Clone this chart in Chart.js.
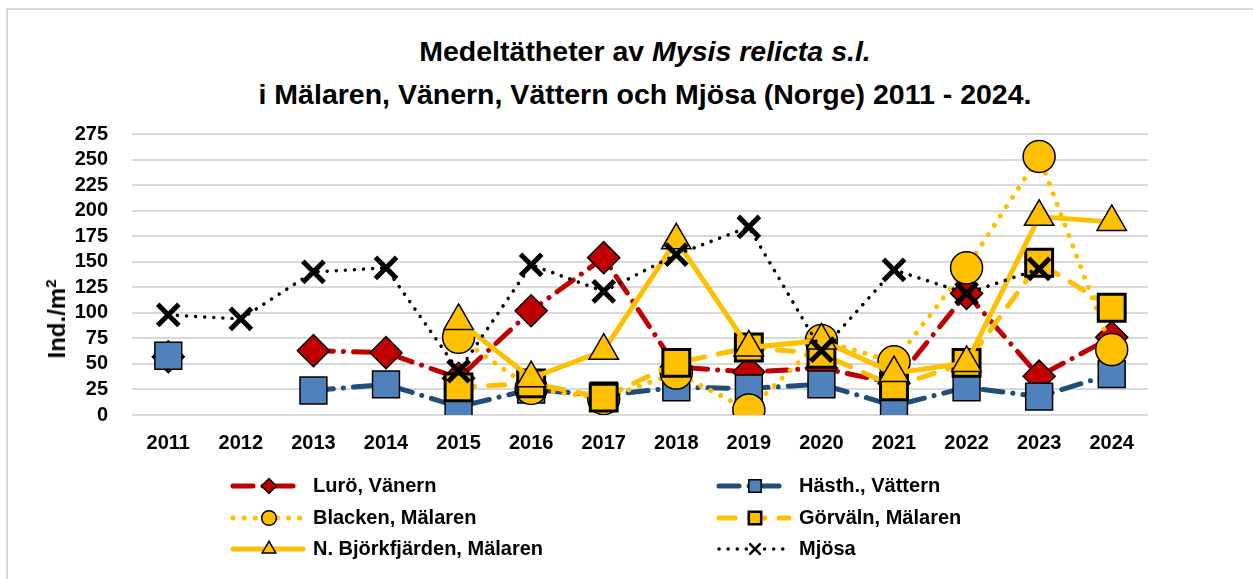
<!DOCTYPE html>
<html lang="sv">
<head>
<meta charset="UTF-8">
<title>Medeltätheter av Mysis relicta</title>
<script src="https://cdn.jsdelivr.net/npm/chart.js"></script>
<style>
  body { margin: 0; background: #fff; }
  #wrap { position: relative; width: 1253px; height: 579px; }
  #frame { position: absolute; left: 6px; top: 8px; right: 0; bottom: 0;
           border-left: 2px solid #d9d9d9; border-top: 2px solid #d9d9d9; }
  #title { position: absolute; left: 0; width: 1290px; top: 30px; text-align: center;
           font: bold 28.5px "Liberation Sans", Arial, sans-serif; line-height: 43px; color: #000; }
  #ytitle { position: absolute; left: 57px; top: 319px; transform: translate(-50%, -50%) rotate(-90deg);
            white-space: nowrap; font: bold 24px "Liberation Sans", Arial, sans-serif; color: #000; }
  #ytitle sup { font-size: 15px; vertical-align: 9px; line-height: 0; }
  canvas { position: absolute; left: 0; top: 0; }
</style>
</head>
<body>
<div id="wrap">
  <div id="frame"></div>
  <div id="title">Medeltätheter av <i>Mysis relicta s.l.</i><br>i Mälaren, Vänern, Vättern och Mjösa (Norge) 2011 - 2024.</div>
  <canvas id="myChart" width="1253" height="579"></canvas>
  <div id="ytitle">Ind./m<sup>2</sup></div>
</div>
<script>
// years
const years = ['2011','2012','2013','2014','2015','2016','2017','2018','2019','2020','2021','2022','2023','2024'];

// values (Ind./m2)
const luro       = [57, null, 63, 61, 36, 102, 154, 47, 42, 46, 31, 119, 38, 76];
const hasth      = [58, null, 24, 30, 8, 25, 19, 27, 26, 30, 9, 27, 18, 40];
const blacken    = [null, null, null, null, 76, 26, 16, 41, 5, 73, 52, 144, 253, 64];
const gorvaln    = [null, null, null, null, 27, 31, 17, 51, 66, 60, 28, 51, 149, 105];
const bjorkfj    = [null, null, null, null, 92, 36, 63, 171, 66, 73, 41, 51, 194, 189];
const mjosa      = [98, 94, 140, 144, 43, 147, 121, 157, 184, 63, 142, 119, 143, null];

const yTicks = [0, 25, 50, 75, 100, 125, 150, 175, 200, 225, 250, 275];

const FONT = '"Liberation Sans", Arial, sans-serif';

const datasets = [
  { label: 'Lurö, Vänern', data: luro, borderColor: '#C00000', borderWidth: 5,
    borderDash: [20, 10, 0.1, 10], borderCapStyle: 'round',
    pointStyle: 'rectRot', pointRadius: 16, pointBackgroundColor: '#C00000',
    pointBorderColor: '#000', pointBorderWidth: 1.5, order: 6 },
  { label: 'Hästh., Vättern', data: hasth, borderColor: '#1F4E79', borderWidth: 5,
    borderDash: [20, 10, 0.1, 10], borderCapStyle: 'round',
    pointStyle: 'rect', pointRadius: 19, pointBackgroundColor: '#4F81BD',
    pointBorderColor: '#000', pointBorderWidth: 1.5, order: 5 },
  { label: 'Blacken, Mälaren', data: blacken, borderColor: '#FFC000', borderWidth: 5,
    borderDash: [0.1, 11], borderCapStyle: 'round',
    pointStyle: 'circle', pointRadius: 16, pointBackgroundColor: '#FFC000',
    pointBorderColor: '#000', pointBorderWidth: 1.5, order: 4 },
  { label: 'Görväln, Mälaren', data: gorvaln, borderColor: '#FFC000', borderWidth: 5,
    borderDash: [16, 14], borderCapStyle: 'round',
    pointStyle: 'rect', pointRadius: 19, pointBackgroundColor: '#FFC000',
    pointBorderColor: '#000', pointBorderWidth: 3, order: 3 },
  { label: 'N. Björkfjärden, Mälaren', data: bjorkfj, borderColor: '#FFC000', borderWidth: 5,
    borderCapStyle: 'round',
    pointStyle: 'triangle', pointRadius: 17, pointBackgroundColor: '#FFC000',
    pointBorderColor: '#000', pointBorderWidth: 1.5, order: 2 },
  { label: 'Mjösa', data: mjosa, borderColor: '#000', borderWidth: 3.5,
    borderDash: [0.1, 9], borderCapStyle: 'round',
    pointStyle: 'crossRot', pointRadius: 15, pointBackgroundColor: '#000',
    pointBorderColor: '#000', pointBorderWidth: 5, order: 1 }
];
datasets.forEach(d => { d.fill = false; d.tension = 0; d.spanGaps = false; d.pointHoverRadius = d.pointRadius; });

// legend drawn in two columns like the original
const legendPlugin = {
  id: 'twoColLegend',
  afterDraw(chart) {
    const ctx = chart.ctx;
    const cols = [233, 719];
    const rows = [486, 518, 549];
    chart.data.datasets.forEach((ds, i) => {
      const x0 = cols[i % 2];
      const y = rows[Math.floor(i / 2)];
      ctx.save();
      ctx.strokeStyle = ds.borderColor;
      ctx.lineWidth = ds.borderWidth;
      ctx.lineCap = ds.borderCapStyle || 'butt';
      ctx.setLineDash(ds.borderDash || []);
      ctx.beginPath();
      ctx.moveTo(x0, y);
      ctx.lineTo(x0 + 70, y);
      ctx.stroke();
      ctx.setLineDash([]);
      ctx.fillStyle = ds.pointBackgroundColor;
      ctx.strokeStyle = ds.pointBorderColor;
      ctx.lineWidth = Math.min(ds.pointBorderWidth, 2.5);
      Chart.helpers.drawPoint(ctx, { pointStyle: ds.pointStyle, radius: ds.pointRadius * 0.46, rotation: 0, borderWidth: ctx.lineWidth }, x0 + 36, y);
      ctx.fillStyle = '#000';
      ctx.font = 'bold 20px ' + FONT;
      ctx.textBaseline = 'middle';
      ctx.fillText(ds.label, x0 + 80, y);
      ctx.restore();
    });
  }
};

new Chart(document.getElementById('myChart'), {
  type: 'line',
  data: { labels: years, datasets: datasets },
  plugins: [legendPlugin],
  options: {
    responsive: false,
    animation: false,
    layout: { padding: { top: 134, left: 42, right: 105, bottom: 116 } },
    plugins: { legend: { display: false }, title: { display: false }, tooltip: { enabled: false } },
    scales: {
      x: {
        offset: true,
        grid: { display: false },
        border: { display: false },
        ticks: { color: '#000', font: { family: FONT, size: 20, weight: 'bold' }, padding: 8, maxRotation: 0, autoSkip: false }
      },
      y: {
        min: 0, max: 275,
        afterBuildTicks: axis => { axis.ticks = yTicks.map(v => ({ value: v })); },
        afterFit: axis => { axis.width = 90; },
        grid: { color: '#d9d9d9', lineWidth: 2, drawTicks: false },
        border: { display: false },
        ticks: { color: '#000', font: { family: FONT, size: 20, weight: 'bold' }, padding: 24, autoSkip: false }
      }
    }
  }
});
</script>
</body>
</html>
